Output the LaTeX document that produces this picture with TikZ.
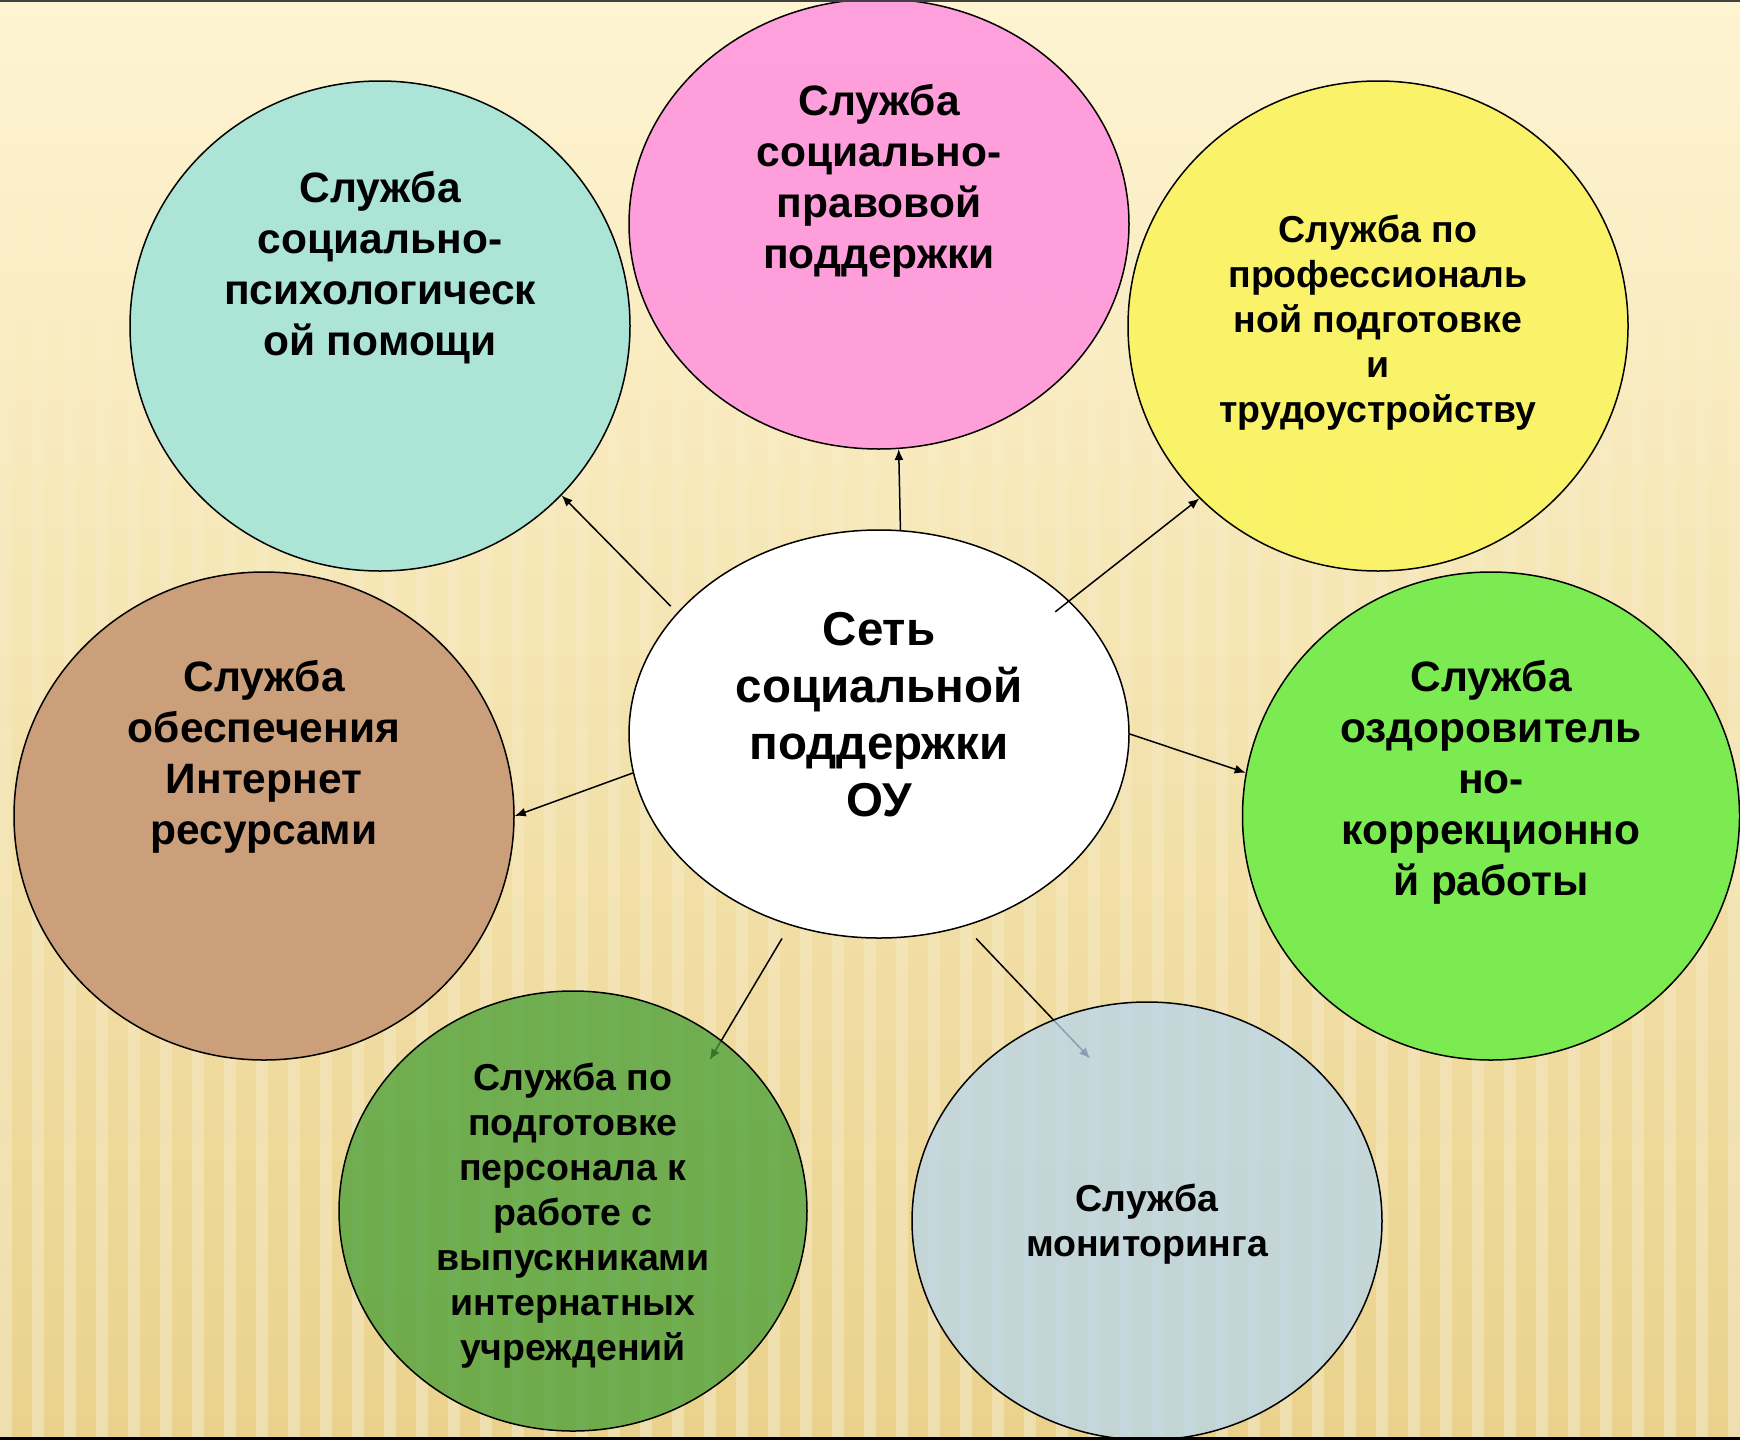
\documentclass[tikz,border=0pt]{standalone}
\usepackage{fontspec}
\setmainfont{Liberation Sans}
\usetikzlibrary{shapes.geometric,arrows.meta,backgrounds,fadings}

\definecolor{bgtop}{RGB}{254,244,210}
\definecolor{bgmid}{RGB}{250,233,182}
\definecolor{bgbot}{RGB}{234,210,140}
\definecolor{psycol}{RGB}{166,228,216}
\definecolor{lawcol}{RGB}{255,153,221}
\definecolor{profcol}{RGB}{250,244,98}
\definecolor{inetcol}{RGB}{200,154,118}
\definecolor{healthcol}{RGB}{114,236,74}
\definecolor{staffcol}{RGB}{70,158,52}
\definecolor{moncol}{RGB}{182,213,236}

\tikzset{
  svc/.style={ellipse, draw=black, line width=0.75pt, inner sep=0pt},
  bigtxt/.style={align=center, font=\fontsize{23.75pt}{28.5pt}\selectfont\bfseries},
  midtxt/.style={align=center, font=\fontsize{21.25pt}{25.5pt}\selectfont\bfseries},
  smalltxt/.style={align=center, font=\fontsize{18.75pt}{22.5pt}\selectfont\bfseries},
  link/.style={-{Latex[length=5.5pt,width=4.5pt]}, line width=0.75pt},
}

\begin{document}
\begin{tikzpicture}[x=0.5pt, y=-0.5pt]
\useasboundingbox (0,0) rectangle (1740,1440);

% background with stripes
\begin{scope}[on background layer]
  \clip (0,0) rectangle (1740,1440);
  \shade[top color=bgtop, middle color=bgmid, bottom color=bgbot] (0,0) rectangle (1740,1440);
  \foreach \sx in {0,32,...,1740}
    \fill[white, opacity=0.3, path fading=north] (\sx,90) rectangle ++(12,1350);
\end{scope}

\begin{scope}
\clip (0,0) rectangle (1740,1440);
% centre
\node[svc, fill=white, minimum width=250pt, minimum height=204pt] (net) at (879,734) {};
\node[bigtxt] (nettxt) at (879,714.5) {Сеть\\социальной\\поддержки\\ОУ};

% services
\node[svc, fill=psycol, fill opacity=0.92, minimum width=250pt, minimum height=245pt] (psy) at (380,326) {};
\node[svc, fill=lawcol, fill opacity=0.92, minimum width=250pt, minimum height=225pt] (law) at (879,224) {};
\node[svc, fill=profcol, fill opacity=0.92, minimum width=250pt, minimum height=245pt] (prof) at (1378,326) {};
\node[svc, fill=inetcol, fill opacity=0.92, minimum width=250pt, minimum height=244pt] (inet) at (264,816) {};
\node[svc, fill=healthcol, fill opacity=0.92, minimum width=248.5pt, minimum height=244pt] (health) at (1491,816) {};
\node[svc, fill=staffcol, fill opacity=0.75, minimum width=234pt, minimum height=220pt] (staff) at (573,1211) {};
\node[svc, fill=moncol, fill opacity=0.75, minimum width=235pt, minimum height=219pt] (mon) at (1147,1221) {};

\node[midtxt] (psytxt) at (380,267.5) {Служба\\социально-\\психологическ\\ой помощи};
\node[midtxt] (lawtxt) at (879,180.5) {Служба\\социально-\\правовой\\поддержки};
\node[smalltxt] (proftxt) at (1378,322.5) {Служба по\\профессиональ\\ной подготовке\\и\\трудоустройству};
\node[midtxt] (inettxt) at (264,756.5) {Служба\\обеспечения\\Интернет\\ресурсами};
\node[midtxt] (healthtxt) at (1491,782.5) {Служба\\оздоровитель\\но-\\коррекционно\\й работы};
\node[smalltxt] (stafftxt) at (573,1215.5) {Служба по\\подготовке\\персонала к\\работе с\\выпускниками\\интернатных\\учреждений};
\node[smalltxt] (montxt) at (1147,1224.5) {Служба\\мониторинга};

% links
\draw[link, shorten <=4.5pt] (net.149.8) -- (psy.-43.5);
\draw[link] (net.84.7) -- (law.-85.2);
\draw[link, shorten <=-9pt] (net.35.6) -- (prof.-136.7);
\draw[link] (net.0.2) -- (health.170);
\draw[link] (net.189.4) -- (inet.0);
\end{scope}

% links under the lower circles
\begin{scope}[on background layer]
  \draw[link, shorten <=7.6pt, shorten >=-11.6pt] (net.245.3) -- (staff.49.55);
  \draw[link, shorten <=8.3pt, shorten >=-27pt] (net.-66.2) -- (mon.115.1);
\end{scope}

% frame lines
\draw[line width=1pt, black!75] (0,1) -- (1740,1);
\draw[line width=1.2pt, black] (0,1438.5) -- (1740,1438.5);
\end{tikzpicture}
\end{document}
